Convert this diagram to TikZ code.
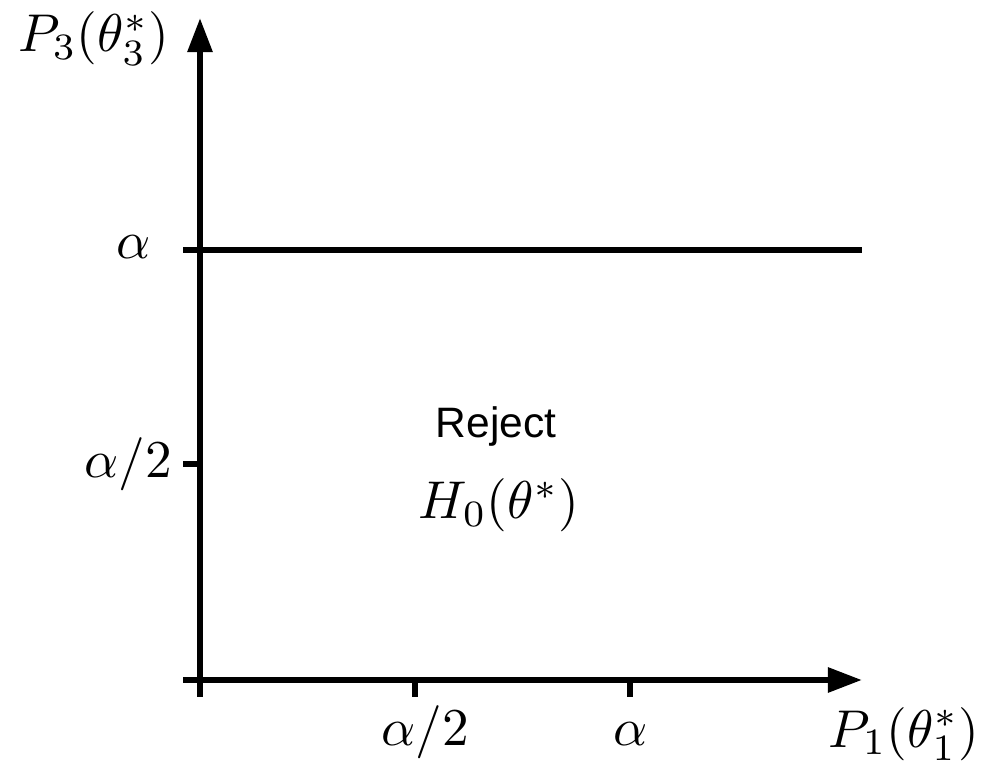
\documentclass[tikz,border=0pt]{standalone}
\usepackage{fontspec}
\newfontfamily\labelsans{Liberation Sans}
\usetikzlibrary{arrows.meta}
\begin{document}
\begin{tikzpicture}[x=0.188pt,y=-0.188pt,
  axisline/.style={line width=1.13pt},
  axisarrow/.style={axisline,-{Triangle[length=6.4pt,width=4.5pt]}},
  mlabel/.style={inner sep=0pt,anchor=base},
  slabel/.style={inner sep=0pt,anchor=base,font=\labelsans\fontsize{8}{9.6}\selectfont}]
\useasboundingbox (0,0) rectangle (985,762);
% axis end points
\coordinate (ybot) at (200,697);
\coordinate (ytop) at (200,18);
\coordinate (xleft) at (183,680);
\coordinate (xright) at (862,680);
\coordinate (aleft) at (183,250);
\coordinate (aright) at (862,250);
\coordinate (h2a) at (183,464);
\coordinate (h2b) at (200,464);
\coordinate (t1a) at (415,680);
\coordinate (t1b) at (415,697);
\coordinate (t2a) at (630,680);
\coordinate (t2b) at (630,697);
% axes
\draw[axisarrow] (ybot) -- (ytop);
\draw[axisarrow] (xleft) -- (xright);
\draw[axisline] (aleft) -- (aright);
\draw[axisline] (h2a) -- (h2b);
\draw[axisline] (t1a) -- (t1b);
\draw[axisline] (t2a) -- (t2b);
% labels
\node[mlabel] (ylab) at (94,52) {$P_3(\theta_3^*)$};
\node[mlabel] (xlab) at (904,747) {$P_1(\theta_1^*)$};
\node[mlabel] (ya) at (134,259) {$\alpha$};
\node[mlabel] (ya2) at (128,478) {$\alpha/2$};
\node[mlabel] (xa2) at (425,746) {$\alpha/2$};
\node[mlabel] (xa) at (631,746) {$\alpha$};
\node[slabel] (rej) at (496,438) {Reject};
\node[mlabel] (hyp) at (499,519) {$H_0(\theta^*)$};
\end{tikzpicture}
\end{document}
